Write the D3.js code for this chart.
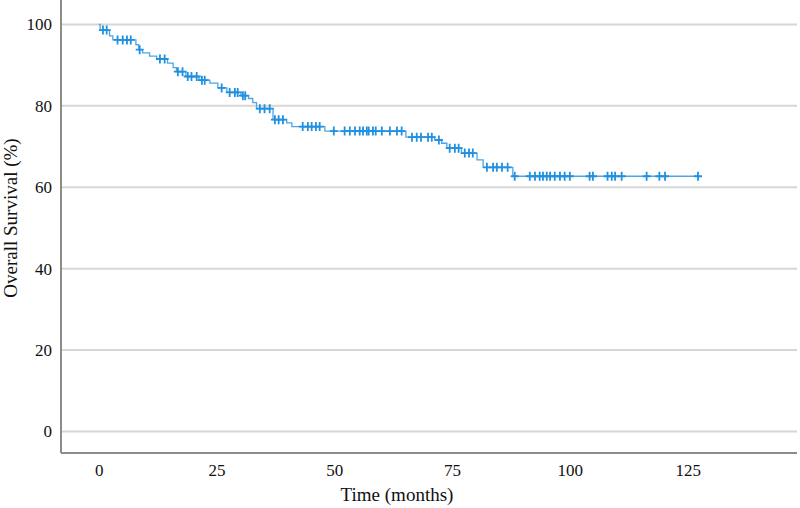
<!DOCTYPE html>
<html>
<head>
<meta charset="utf-8">
<script src="https://cdn.jsdelivr.net/npm/d3@7"></script>
<style>
  html, body { margin: 0; padding: 0; background: #fff; }
  svg { display: block; }
</style>
</head>
<body>
<div id="chart"></div>
<script>
// Kaplan-Meier steps: time (months) and survival (%) after each drop
const STEP_TIMES = [0, 0.3, 2.3, 3.0, 7.9, 8.5, 9.3, 10.8, 12.3, 14.6, 15.8, 16.5, 18.5, 21.3, 23.6, 25.3,
  27.2, 30.2, 31.8, 32.7, 33.5, 37.0, 39.9, 41.0, 48.0, 65.2, 71.3, 72.8, 73.9, 77.0, 80.3, 81.6, 87.9, 127.2]
const STEP_SURV = [100, 98.6, 97.2, 96.2, 95.0, 93.8, 93.0, 92.2, 91.5, 90.5, 89.4, 88.4, 87.2, 86.3, 85.6, 84.4,
  83.3, 82.5, 81.8, 80.8, 79.3, 76.6, 75.8, 74.9, 73.8, 72.3, 71.6, 70.8, 69.6, 68.4, 66.7, 64.9, 62.7, 62.7]

// Censored observations (months)
const CENSOR_TIMES = [0.9, 1.7, 4.0, 5.1, 6.0, 6.8, 8.7, 13.0, 14.0, 16.8, 17.8, 18.9, 19.7, 20.8, 21.9, 22.5,
  26.1, 27.8, 28.9, 29.5, 30.6, 31.1, 34.2, 35.2, 36.3, 37.4, 38.2, 39.1, 43.3, 44.4, 45.2, 46.1, 46.9,
  49.9, 52.2, 53.3, 54.4, 55.4, 56.1, 56.9, 57.3, 58.2, 58.8, 60.1, 61.8, 63.3, 64.3,
  66.5, 67.5, 68.4, 69.9, 70.7, 72.2, 74.5, 75.6, 76.4, 77.7, 78.6, 79.4,
  82.4, 83.7, 84.5, 85.6, 86.8, 88.3, 91.5, 92.6, 93.6, 94.3, 95.1, 95.8, 96.8, 97.9, 98.9, 100.0,
  104.2, 104.9, 108.0, 108.9, 109.6, 111.0, 116.3, 119.0, 120.2, 127.2]

const X_TICKS = [0, 25, 50, 75, 100, 125]
const Y_TICKS = [0, 20, 40, 60, 80, 100]

const W = 800, H = 508
const svg = d3.select('#chart').append('svg').attr('width', W).attr('height', H)

const x = d3.scaleLinear().domain([-8, 148]).range([61, 796])
const y = d3.scaleLinear().domain([-5.3, 106]).range([453, 0])

const font = '"Liberation Serif", "Times New Roman", serif'

// Grid lines
svg.append('g')
  .selectAll('line')
  .data(Y_TICKS)
  .enter().append('line')
  .attr('x1', 61).attr('x2', 797)
  .attr('y1', d => y(d)).attr('y2', d => y(d))
  .attr('stroke', '#d6d6d6').attr('stroke-width', 2)

// Axes
svg.append('g')
  .attr('transform', 'translate(61,0)')
  .call(d3.axisLeft(y).tickValues(Y_TICKS).tickSize(0).tickPadding(9))
  .call(ax => ax.select('.domain').attr('d', `M0,0V${y.range()[0]}`).attr('stroke', '#8c8c8c').attr('stroke-width', 2))
  .call(ax => ax.selectAll('text').attr('fill', '#111').attr('font-size', 17).attr('font-family', font))

svg.append('g')
  .attr('transform', 'translate(0,453)')
  .call(d3.axisBottom(x).tickValues(X_TICKS).tickSize(0).tickPadding(11))
  .call(ax => ax.select('.domain').attr('d', 'M61,0H797').attr('stroke', '#8c8c8c').attr('stroke-width', 2))
  .call(ax => ax.selectAll('text').attr('fill', '#111').attr('font-size', 17).attr('font-family', font))

// Axis titles
svg.append('text')
  .attr('x', 397).attr('y', 501)
  .attr('text-anchor', 'middle')
  .attr('font-family', font).attr('font-size', 19).attr('fill', '#111')
  .text('Time (months)')

svg.append('text')
  .attr('transform', 'rotate(-90)')
  .attr('x', -218).attr('y', 17)
  .attr('text-anchor', 'middle')
  .attr('font-family', font).attr('font-size', 19).attr('fill', '#111')
  .text('Overall Survival (%)')

// Survival curve
const steps = STEP_TIMES.map((t, i) => ({ t, s: STEP_SURV[i] }))
const line = d3.line()
  .x(d => x(d.t))
  .y(d => y(d.s))
  .curve(d3.curveStepAfter)

svg.append('path')
  .datum(steps)
  .attr('fill', 'none')
  .attr('stroke', '#4ea6e6')
  .attr('stroke-width', 1.3)
  .attr('d', line)

// Censor marks sit on the curve level at their time
const survAt = t => {
  const i = d3.bisectRight(STEP_TIMES, t) - 1
  return STEP_SURV[Math.max(0, i)]
}

const marks = svg.append('g')
  .attr('stroke', '#2090e0')
  .attr('stroke-width', 1.8)
marks.selectAll('path')
  .data(CENSOR_TIMES)
  .enter().append('path')
  .attr('d', t => {
    const cx = x(t), cy = y(survAt(t))
    return `M${cx - 4},${cy}H${cx + 4}M${cx},${cy - 4.5}V${cy + 4.5}`
  })
</script>
</body>
</html>
